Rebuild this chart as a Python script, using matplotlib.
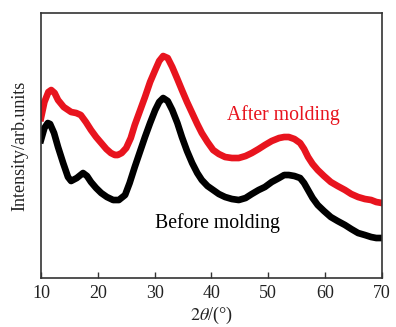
import matplotlib
matplotlib.use('Agg')
import matplotlib.pyplot as plt
import numpy as np

plt.rcParams['font.family'] = ['Liberation Serif', 'DejaVu Serif']
plt.rcParams['mathtext.fontset'] = 'stix'

# XRD patterns (2theta in degrees, intensity in arb. units)
two_theta_after = [10.0, 10.6, 11.3, 11.8, 12.4, 13.0, 14.0, 15.3, 16.2, 17.0, 17.9,
                   18.8, 19.7, 20.6, 21.5, 22.3, 23.0, 23.5, 24.2, 25.0, 25.8, 26.5,
                   27.4, 28.3, 29.2, 30.1, 30.8, 31.5, 32.3, 33.1, 34.0, 34.8, 35.7,
                   36.6, 37.5, 38.3, 39.3, 40.3, 41.3, 42.4, 43.6, 44.8, 46.0, 47.1,
                   48.3, 49.4, 50.6, 51.9, 52.8, 53.6, 54.6, 55.6, 56.3, 57.0, 57.8,
                   58.7, 59.8, 61.0, 62.2, 63.5, 64.6, 65.8, 67.0, 68.1, 69.0, 70.0]
inten_after = [160, 176, 186, 188, 185, 178, 171, 166, 165, 163, 156,
               148, 141, 135, 129, 125, 123, 123, 125, 130, 140, 153,
               167, 181, 196, 208, 217, 222, 220, 211, 199, 188, 176,
               165, 154, 145, 136, 128, 124, 121, 120, 120, 122, 125,
               129, 133, 137, 140, 141, 141, 139, 135, 129, 121, 114,
               108, 102, 96, 92, 88, 84, 81, 79, 78, 76, 75]

two_theta_before = [10.0, 10.6, 11.2, 11.6, 12.3, 13.0, 13.9, 14.75, 15.3, 16.3, 17.4,
                    18.1, 18.8, 19.7, 20.6, 21.6, 22.7, 23.7, 24.8, 25.6, 26.5, 27.4,
                    28.3, 29.2, 30.1, 30.8, 31.5, 32.3, 33.1, 34.0, 34.8, 35.7, 36.6,
                    37.5, 38.3, 39.3, 40.3, 41.3, 42.4, 43.6, 44.8, 46.0, 47.1, 48.3,
                    49.4, 50.6, 51.9, 52.8, 53.6, 54.6, 55.6, 56.3, 57.0, 57.8, 58.7,
                    59.8, 61.0, 62.2, 63.5, 64.6, 65.8, 67.0, 68.1, 69.0, 70.0]
inten_before = [138, 150, 155, 154, 145, 131, 115, 101, 97, 100, 105,
                102, 96, 90, 85, 81, 78, 78, 83, 95, 111, 126,
                141, 155, 168, 176, 180, 177, 168, 155, 141, 127, 115,
                105, 98, 92, 88, 84, 81, 79, 78, 80, 84, 88,
                91, 96, 100, 103, 103, 102, 100, 95, 88, 80, 73,
                67, 61, 57, 53, 49, 45, 43, 41, 40, 40]

fig = plt.figure(figsize=(3.96, 3.27), dpi=100)
ax = fig.add_axes([0.1035, 0.1498, 0.861, 0.8104])

ax.plot(two_theta_after, inten_after, color='#e8141e', lw=4.8, solid_joinstyle='round')
ax.plot(two_theta_before, inten_before, color='black', lw=4.8, solid_joinstyle='round')

ax.text(52.6, 163, 'After molding', color='#e8141e', fontsize=14.2, ha='center', va='center')
ax.text(41.1, 55, 'Before molding', color='black', fontsize=14.2, ha='center', va='center')

ax.set_xlim(10, 70)
ax.set_ylim(0, 265)
ax.set_xticks([10, 20, 30, 40, 50, 60, 70])
ax.set_yticks([])
ax.tick_params(axis='x', direction='in', length=4, width=1, labelsize=13, pad=5,
               colors='#333333', labelcolor='#222222')
for s in ax.spines.values():
    s.set_color('#333333')
    s.set_linewidth(1.2)

ax.set_xlabel(r'$2\theta$/(°)', fontsize=13, color='#222222', labelpad=2)
ax.set_ylabel('Intensity/arb.units', fontsize=13, color='#222222', labelpad=9)

fig.savefig('out.png', dpi=100)
